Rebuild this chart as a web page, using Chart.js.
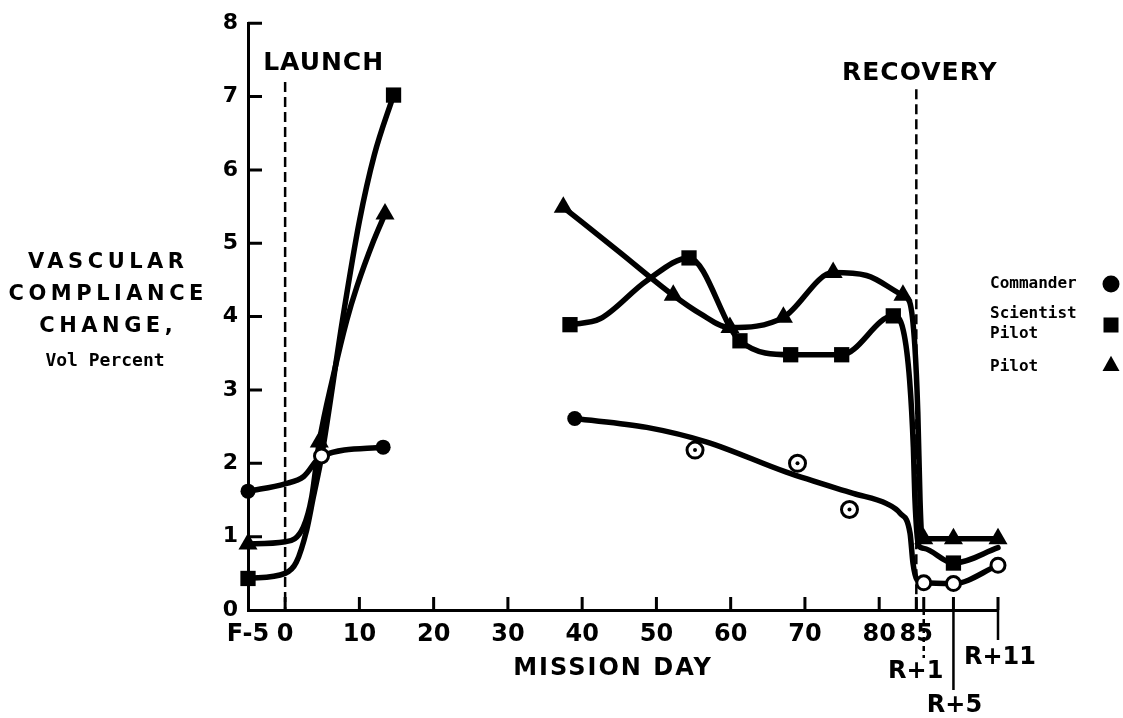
<!DOCTYPE html>
<html>
<head>
<meta charset="utf-8">
<script src="https://cdn.jsdelivr.net/npm/chart.js@4/dist/chart.umd.min.js"></script>
<style>
html, body { margin: 0; padding: 0; background: #fff; }
#wrap { width: 1123px; height: 718px; }
</style>
</head>
<body>
<div id="wrap"><canvas id="myChart" width="1123" height="718"></canvas></div>
<script>
// mission day axis
var xTicks  = [-5, 0, 10, 20, 30, 40, 50, 60, 70, 80, 85, 86, 90, 96];
var xLabels = ['F-5', '0', '10', '20', '30', '40', '50', '60', '70', '80', '85', 'R+1', 'R+5', 'R+11'];
var launchDay = 0, recoveryDay = 85;

// Commander - smoothed curve (null = break) and measured points
var cmdCurveX = [-5, 0, 2.5, 4.9, 13.2, 25, 39, 48.7, 56.8, 67.5, 76.5, 81, 82.8, 84.15, 84.55, 85.1, 86, 90, 96];
var cmdCurveY = [1.62, 1.72, 1.82, 2.1, 2.22, null, 2.61, 2.49, 2.29, 1.88, 1.59, 1.45, 1.32, 1.05, 0.64, 0.41, 0.37, 0.36, 0.61];
var cmdSolidX = [-5, 13.2, 39];
var cmdSolidY = [1.62, 2.22, 2.61];
var cmdOpenX = [4.9, 86, 90, 96];
var cmdOpenY = [2.1, 0.37, 0.36, 0.61];
var cmdRingX = [55.2, 69, 76];
var cmdRingY = [2.18, 2.0, 1.37];

// Scientist Pilot
var sciCurveX = [-5, 0, 1.5, 2.9, 3.8, 4.9, 7.8, 10, 12, 14.6, 25, 38.36, 42.4, 48.7, 54.39, 61.25, 68.08, 74.95, 81.9, 83.25, 84.1, 84.6, 84.8, 85.3, 86, 90, 96];
var sciCurveY = [0.43, 0.5, 0.65, 1.09, 1.54, 2.09, 4.0, 5.3, 6.2, 7.02, null, 3.89, 3.97, 4.49, 4.8, 3.67, 3.48, 3.48, 4.01, 3.81, 3.13, 2.22, 1.54, 0.88, 0.84, 0.64, 0.85];
var sciPtsX = [-5, 14.6, 38.36, 54.39, 61.25, 68.08, 74.95, 81.9, 90];
var sciPtsY = [0.43, 7.02, 3.89, 4.8, 3.67, 3.48, 3.48, 4.01, 0.64];

// Pilot
var pilCurveX = [-5, 0, 2.45, 3.58, 4.6, 6.5, 8.3, 9.64, 11.9, 13.45, 25, 37.46, 44.9, 52.27, 55.9, 59.9, 67.1, 73.8, 78.3, 83.2, 84.1, 84.8, 85.2, 85.5, 85.7, 86, 90, 96];
var pilCurveY = [0.9, 0.93, 1.13, 1.54, 2.29, 3.2, 3.95, 4.4, 5.03, 5.4, null, 5.49, 4.89, 4.29, 4.04, 3.85, 3.99, 4.6, 4.56, 4.29, 4.2, 3.6, 2.7, 1.5, 1.05, 0.97, 0.97, 0.97];
var pilPtsX = [-5, 4.6, 13.45, 37.46, 52.27, 59.9, 67.1, 73.8, 83.2, 86, 90, 96];
var pilPtsY = [0.9, 2.29, 5.4, 5.49, 4.29, 3.85, 3.99, 4.6, 4.29, 0.97, 0.97, 0.97];

var legendNames = ['Commander', 'Scientist\nPilot', 'Pilot'];
var yTitle = ['VASCULAR', 'COMPLIANCE', 'CHANGE,'];
var ySubTitle = 'Vol Percent';

function pts(xs, ys) {
    return xs.map(function (x, i) { return { x: x, y: ys[i] }; });
}

var BOLD = 'bold 24px "DejaVu Sans"';

function spacedText(ctx, txt, x, y, spacing, align) {
    ctx.letterSpacing = spacing + 'px';
    ctx.textAlign = align;
    var dx = align === 'center' ? spacing / 2 : 0;
    ctx.fillText(txt, x + dx, y);
    ctx.letterSpacing = '0px';
}

function marker(ctx, style, x, y, r) {
    ctx.beginPath();
    if (style === 'circle') {
        ctx.arc(x, y, r, 0, Math.PI * 2);
    } else if (style === 'rect') {
        ctx.rect(x - r, y - r, 2 * r, 2 * r);
    } else {
        ctx.moveTo(x, y - r * 1.1);
        ctx.lineTo(x + r, y + r * 0.7);
        ctx.lineTo(x - r, y + r * 0.7);
        ctx.closePath();
    }
    ctx.fill();
}

var overlay = {
    id: 'overlay',
    beforeDatasetsDraw: function (chart) {
        var ctx = chart.ctx, xs = chart.scales.x, ys = chart.scales.y;
        var bottom = ys.getPixelForValue(0), left = xs.getPixelForValue(-5);
        ctx.save();
        ctx.strokeStyle = '#000';
        ctx.lineWidth = 3;
        // inward tick marks
        ctx.beginPath();
        for (var v = 1; v <= 8; v++) {
            ctx.moveTo(left, ys.getPixelForValue(v));
            ctx.lineTo(left + 14, ys.getPixelForValue(v));
        }
        xTicks.forEach(function (t) {
            if (t === -5) return;
            var px = xs.getPixelForValue(t);
            ctx.moveTo(px, bottom);
            ctx.lineTo(px, bottom - 13);
        });
        ctx.stroke();
        // long marks below the axis for recovery days
        ctx.lineWidth = 2.5;
        ctx.beginPath();
        ctx.moveTo(xs.getPixelForValue(90), bottom);
        ctx.lineTo(xs.getPixelForValue(90), bottom + 80);
        ctx.moveTo(xs.getPixelForValue(96), bottom);
        ctx.lineTo(xs.getPixelForValue(96), bottom + 30);
        ctx.stroke();
        ctx.setLineDash([5, 4]);
        ctx.beginPath();
        ctx.moveTo(xs.getPixelForValue(86), bottom);
        ctx.lineTo(xs.getPixelForValue(86), bottom + 48);
        ctx.stroke();
        // launch / recovery dashed lines
        ctx.setLineDash([10, 5]);
        ctx.lineWidth = 2.5;
        ctx.beginPath();
        ctx.moveTo(xs.getPixelForValue(launchDay), ys.getPixelForValue(7.2));
        ctx.lineTo(xs.getPixelForValue(launchDay), bottom);
        ctx.moveTo(xs.getPixelForValue(recoveryDay), ys.getPixelForValue(7.1));
        ctx.lineTo(xs.getPixelForValue(recoveryDay), bottom);
        ctx.stroke();
        ctx.restore();
    },
    afterDraw: function (chart) {
        var ctx = chart.ctx, xs = chart.scales.x, ys = chart.scales.y;
        var bottom = ys.getPixelForValue(0);
        ctx.save();
        ctx.fillStyle = '#000';
        ctx.textBaseline = 'middle';
        ctx.font = 'bold 25px "DejaVu Sans"';
        spacedText(ctx, 'LAUNCH', xs.getPixelForValue(launchDay) - 22, 63, 1, 'left');
        spacedText(ctx, 'RECOVERY', xs.getPixelForValue(recoveryDay) + 3, 73, 1, 'center');
        ctx.font = BOLD;
        spacedText(ctx, 'MISSION DAY', 612, 669, 2, 'center');
        spacedText(ctx, 'R+1', xs.getPixelForValue(86) - 8, bottom + 62, 0, 'center');
        spacedText(ctx, 'R+5', xs.getPixelForValue(90) + 1, bottom + 96, 0, 'center');
        spacedText(ctx, 'R+11', xs.getPixelForValue(96) + 2, bottom + 48, 0, 'center');
        ctx.font = 'bold 21px "DejaVu Sans"';
        yTitle.forEach(function (t, i) {
            spacedText(ctx, t, 106, 263 + i * 32, 4.5, 'center');
        });
        ctx.font = 'bold 18px "DejaVu Sans Mono"';
        spacedText(ctx, ySubTitle, 105, 361, 0, 'center');
        // legend
        ctx.font = 'bold 16px "DejaVu Sans Mono"';
        var styles = ['circle', 'rect', 'triangle'];
        var ty = [284, 314, 367], my = [284, 325, 365];
        legendNames.forEach(function (n, i) {
            n.split('\n').forEach(function (line, j) {
                spacedText(ctx, line, 990, ty[i] + j * 20, 0, 'left');
            });
            marker(ctx, styles[i], 1111, my[i], styles[i] === 'rect' ? 7.5 : 8.5);
        });
        ctx.restore();
    }
};

var markerBase = { showLine: false, clip: false, borderColor: '#000' };

function markerSet(xs, ys, style, radius, fill, bw, order) {
    return Object.assign({}, markerBase, {
        data: pts(xs, ys), pointStyle: style, pointRadius: radius,
        pointBackgroundColor: fill, pointBorderColor: '#000', pointBorderWidth: bw, order: order
    });
}

function curveSet(xs, ys) {
    return {
        data: pts(xs, ys), borderColor: '#000', borderWidth: 5.5, pointRadius: 0,
        cubicInterpolationMode: 'monotone', spanGaps: false, clip: false, order: 5,
        borderCapStyle: 'round', borderJoinStyle: 'round'
    };
}

var ctx = document.getElementById('myChart');
var myChart = new Chart(ctx, {
    type: 'line',
    data: {
        datasets: [
            markerSet(cmdRingX, cmdRingY, 'circle', 2, '#000', 0, 0),
            markerSet(cmdOpenX, cmdOpenY, 'circle', 7, '#fff', 3, 1),
            markerSet(cmdRingX, cmdRingY, 'circle', 8, '#fff', 3, 1),
            markerSet(cmdSolidX, cmdSolidY, 'circle', 7.5, '#000', 0, 1),
            markerSet(sciPtsX, sciPtsY, 'rect', 10.8, '#000', 0, 2),
            markerSet(pilPtsX, pilPtsY, 'triangle', 11, '#000', 0, 2),
            curveSet(cmdCurveX, cmdCurveY),
            curveSet(sciCurveX, sciCurveY),
            curveSet(pilCurveX, pilCurveY)
        ]
    },
    options: {
        responsive: false,
        animation: false,
        events: [],
        layout: { padding: { top: 22, right: 125, bottom: 0, left: 0 } },
        plugins: { legend: { display: false }, tooltip: { enabled: false } },
        scales: {
            x: {
                type: 'linear', min: -5, max: 96,
                afterBuildTicks: function (axis) {
                    axis.ticks = xTicks.map(function (v) { return { value: v }; });
                },
                afterFit: function (scale) { scale.height = 108; },
                grid: { display: false, drawTicks: false },
                border: { display: true, color: '#000', width: 3 },
                ticks: {
                    autoSkip: false, maxRotation: 0, padding: 10, color: '#000',
                    font: { family: 'DejaVu Sans', size: 24, weight: 'bold' },
                    callback: function (value) {
                        var i = xTicks.indexOf(value);
                        if (i < 0 || xLabels[i].charAt(0) === 'R') return '';
                        return xLabels[i];
                    }
                }
            },
            y: {
                min: 0, max: 8,
                afterFit: function (scale) { scale.width = 248; },
                grid: { display: false, drawTicks: false },
                border: { display: true, color: '#000', width: 3 },
                ticks: {
                    stepSize: 1, padding: 10, color: '#000',
                    font: { family: 'DejaVu Sans', size: 22, weight: 'bold' }
                }
            }
        }
    },
    plugins: [overlay]
});
</script>
</body>
</html>
